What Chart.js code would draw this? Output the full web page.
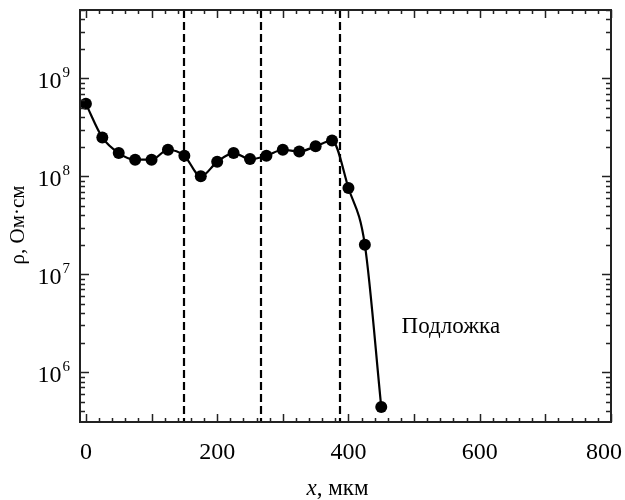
<!DOCTYPE html>
<html>
<head>
<meta charset="utf-8">
<script src="https://cdn.jsdelivr.net/npm/chart.js@4.4.1/dist/chart.umd.min.js"></script>
<style>
  html, body { margin: 0; padding: 0; background: #fff; }
  #wrap { width: 625px; height: 500px; }
</style>
</head>
<body>
<div id="wrap"><canvas id="chart" width="625" height="500"></canvas></div>
<script>
// ==================== DATA ====================
const xPositions = [0, 25, 50, 75, 100, 125, 150, 175, 200, 225, 250, 275, 300, 325, 350, 375, 400, 425, 450];
const rhoValues = [5.5e8, 2.5e8, 1.73e8, 1.48e8, 1.48e8, 1.87e8, 1.62e8, 1.0e8, 1.41e8, 1.73e8,
                   1.5e8, 1.62e8, 1.87e8, 1.79e8, 2.03e8, 2.32e8, 7.6e7, 2.0e7, 4.4e5];
const boundaryX = [150, 266, 387];
const xMinorStep = 20;
const xMajorStep = 100;
const xLabels = [0, 200, 400, 600, 800];
const xRange = [-9, 800];
const yRange = [3.1e5, 5e9];
const yDecades = [1e6, 1e7, 1e8, 1e9];
const substrateLabel = { text: 'Подложка', x: 481, y: 2.9e6 };

const SERIF = '"Liberation Serif", "Times New Roman", serif';
const INK = '#000';
const AXIS = '#222';

// ==================== TICK LISTS ====================
function xTickValues() {
    const out = [];
    for (let v = 0; v <= xRange[1]; v += xMinorStep) out.push(v);
    return out;
}

function yTickValues() {
    const out = [];
    for (let e = 5; e <= 9; e++) {
        for (let m = 1; m <= 9; m++) {
            const v = m * Math.pow(10, e);
            if (v >= yRange[0] && v <= yRange[1]) out.push(v);
        }
    }
    return out;
}

// ==================== DECORATIONS ====================
const decorPlugin = {
    id: 'decor',
    afterDatasetsDraw(chart) {
        const { ctx, chartArea: a, scales: { x, y } } = chart;
        ctx.save();

        // dashed layer boundaries
        ctx.strokeStyle = INK;
        ctx.lineWidth = 2.2;
        ctx.setLineDash([8, 4]);
        boundaryX.forEach(v => {
            const px = Math.round(x.getPixelForValue(v));
            ctx.beginPath();
            ctx.moveTo(px, a.top);
            ctx.lineTo(px, a.bottom);
            ctx.stroke();
        });
        ctx.setLineDash([]);

        // frame
        ctx.strokeStyle = AXIS;
        ctx.lineWidth = 2;
        ctx.strokeRect(a.left, a.top, a.right - a.left, a.bottom - a.top);

        // inward tick marks, all four sides
        ctx.lineWidth = 1.5;
        ctx.beginPath();
        xTickValues().forEach(v => {
            const px = Math.round(x.getPixelForValue(v)) + 0.5;
            const len = v % xMajorStep === 0 ? 8 : 4;
            ctx.moveTo(px, a.bottom); ctx.lineTo(px, a.bottom - len);
            ctx.moveTo(px, a.top); ctx.lineTo(px, a.top + len);
        });
        yTickValues().forEach(v => {
            const py = Math.round(y.getPixelForValue(v)) + 0.5;
            const len = yDecades.includes(v) ? 9 : 5;
            ctx.moveTo(a.left, py); ctx.lineTo(a.left + len, py);
            ctx.moveTo(a.right, py); ctx.lineTo(a.right - len, py);
        });
        ctx.stroke();

        ctx.fillStyle = INK;

        // x tick labels, last one kept inside the canvas
        ctx.font = '24px ' + SERIF;
        ctx.textAlign = 'left';
        ctx.textBaseline = 'alphabetic';
        xLabels.forEach(v => {
            const s = String(v);
            const w = ctx.measureText(s).width;
            let left = x.getPixelForValue(v) - w / 2;
            left = Math.min(left, chart.width - 3 - w);
            ctx.fillText(s, left, a.bottom + 37);
        });

        // y tick labels: 10 with superscript exponent
        yDecades.forEach(v => {
            const py = y.getPixelForValue(v);
            const exp = String(Math.round(Math.log10(v)));
            ctx.font = '15px ' + SERIF;
            const ew = ctx.measureText(exp).width;
            ctx.textAlign = 'right';
            ctx.fillText(exp, a.left - 10, py - 1);
            ctx.font = '24px ' + SERIF;
            ctx.fillText('10', a.left - 11 - ew, py + 10);
        });

        // substrate label
        ctx.font = '23px ' + SERIF;
        ctx.textAlign = 'left';
        ctx.textBaseline = 'middle';
        ctx.fillText(substrateLabel.text, x.getPixelForValue(substrateLabel.x), y.getPixelForValue(substrateLabel.y));

        // x axis title: italic x, upright units
        const cx = (a.left + a.right) / 2 - 8;
        ctx.textBaseline = 'alphabetic';
        ctx.font = 'italic 23px ' + SERIF;
        const w1 = ctx.measureText('x').width;
        ctx.font = '23px ' + SERIF;
        const w2 = ctx.measureText(', мкм').width;
        const sx = cx - (w1 + w2) / 2;
        ctx.textAlign = 'left';
        ctx.font = 'italic 23px ' + SERIF;
        ctx.fillText('x', sx, 495);
        ctx.font = '23px ' + SERIF;
        ctx.fillText(', мкм', sx + w1, 495);

        // y axis title
        ctx.save();
        ctx.translate(24, (a.top + a.bottom) / 2 + 9);
        ctx.rotate(-Math.PI / 2);
        ctx.textAlign = 'center';
        ctx.textBaseline = 'alphabetic';
        ctx.font = '21px ' + SERIF;
        ctx.fillText('ρ, Ом·см', 0, 0);
        ctx.restore();

        ctx.restore();
    }
};

// ==================== CHART ====================
new Chart(document.getElementById('chart'), {
    type: 'line',
    data: {
        datasets: [{
            data: xPositions.map((xv, i) => ({ x: xv, y: rhoValues[i] })),
            borderColor: INK,
            backgroundColor: INK,
            borderWidth: 2.2,
            pointRadius: 6,
            pointBackgroundColor: INK,
            pointBorderWidth: 0,
            cubicInterpolationMode: 'monotone',
            fill: false
        }]
    },
    options: {
        responsive: false,
        animation: false,
        layout: { padding: { top: 10, right: 14, left: 0, bottom: 0 } },
        plugins: { legend: { display: false }, tooltip: { enabled: false } },
        scales: {
            x: {
                type: 'linear',
                min: xRange[0],
                max: xRange[1],
                afterBuildTicks: s => { s.ticks = xTickValues().map(v => ({ value: v })); },
                afterFit: s => { s.height = 78; s.paddingLeft = 0; s.paddingRight = 0; },
                grid: { display: false },
                border: { display: false },
                ticks: { display: false }
            },
            y: {
                type: 'logarithmic',
                min: yRange[0],
                max: yRange[1],
                afterBuildTicks: s => { s.ticks = yTickValues().map(v => ({ value: v })); },
                afterFit: s => { s.width = 80; s.paddingTop = 0; s.paddingBottom = 0; },
                grid: { display: false },
                border: { display: false },
                ticks: { display: false }
            }
        }
    },
    plugins: [decorPlugin]
});
</script>
</body>
</html>
